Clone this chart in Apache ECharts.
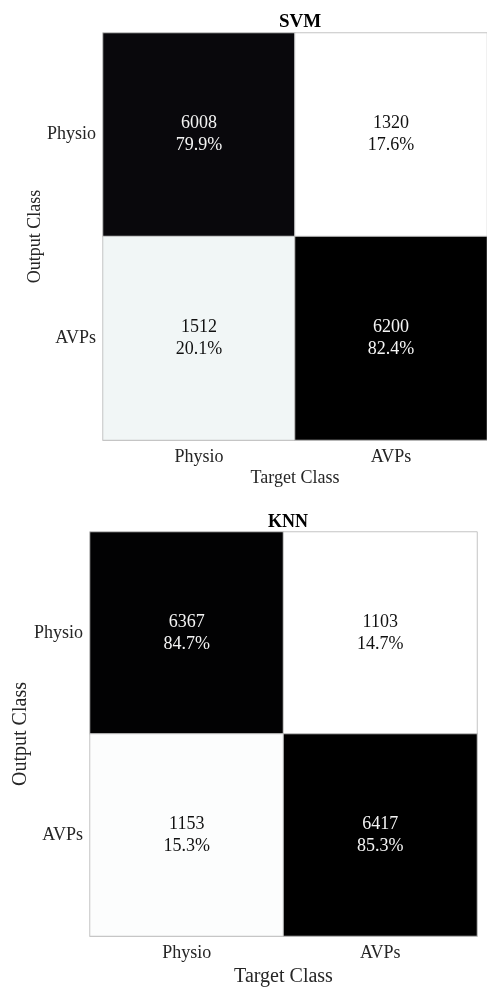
<!DOCTYPE html>
<html>
<head>
<meta charset="utf-8">
<script src="https://cdn.jsdelivr.net/npm/echarts@6/dist/echarts.min.js"></script>
<style>
html,body{margin:0;padding:0;background:#fff;}
#c{width:487px;height:988px;}
</style>
</head>
<body>
<div id="c"></div>
<script>
const targetClasses = ['Physio', 'AVPs'];
const outputClasses = ['Physio', 'AVPs'];
const titles = ['SVM', 'KNN'];
// rows = output class, cols = target class
const svmCounts = [[6008, 1320], [1512, 6200]];
const svmPercents = [[79.9, 17.6], [20.1, 82.4]];
const knnCounts = [[6367, 1103], [1153, 6417]];
const knnPercents = [[84.7, 14.7], [15.3, 85.3]];

const boneReversed = ['#ffffff','#d3e3e3','#a6c6c6','#8b9faa','#6f788e','#535171','#37364b','#1c1b26','#000000'];
const FONT = '"Liberation Serif", "Times New Roman", serif';

function buildData(counts, pcts) {
  const flat = counts.flat();
  const mn = Math.min(...flat), mx = Math.max(...flat);
  const data = [];
  for (let r = 0; r < counts.length; r++) {
    for (let c = 0; c < counts[r].length; c++) {
      const v = counts[r][c];
      data.push({
        value: [c, r, v, pcts[r][c]],
        label: { color: v > (mn + mx) / 2 ? '#f4f4f4' : '#111' }
      });
    }
  }
  return { data, mn, mx };
}

const svm = buildData(svmCounts, svmPercents);
const knn = buildData(knnCounts, knnPercents);

const grids = [
  { left: 103, top: 33, width: 384, height: 407 },
  { left: 90, top: 532, width: 387, height: 407 }
];
const nameSizes = [18, 20];
const xNameGaps = [29, 31];

const chart = echarts.init(document.getElementById('c'), null, { renderer: 'canvas' });
chart.setOption({
  backgroundColor: '#fff',
  animation: false,
  title: [
    { text: titles[0], left: 295, top: 8, textAlign: 'center',
      textStyle: { fontFamily: FONT, fontWeight: 'bold', fontSize: 19, color: '#000' } },
    { text: titles[1], left: 283, top: 508, textAlign: 'center',
      textStyle: { fontFamily: FONT, fontWeight: 'bold', fontSize: 18, color: '#000' } }
  ],
  grid: grids,
  xAxis: [0, 1].map(i => ({
    type: 'category', gridIndex: i, data: targetClasses,
    name: 'Target Class', nameLocation: 'middle', nameGap: xNameGaps[i], nameMoveOverlap: false,
    nameTextStyle: { fontFamily: FONT, fontSize: nameSizes[i], color: '#262626' },
    axisLine: { show: true, lineStyle: { color: '#bdbdbd', width: 1 } },
    axisTick: { show: false },
    axisLabel: { fontFamily: FONT, fontSize: 18, color: '#262626', margin: 8 },
    splitLine: { show: false }
  })),
  yAxis: [0, 1].map(i => ({
    type: 'category', gridIndex: i, data: outputClasses, inverse: true,
    name: 'Output Class', nameLocation: 'middle', nameGap: 59, nameRotate: 90, nameMoveOverlap: false,
    nameTextStyle: { fontFamily: FONT, fontSize: nameSizes[i], color: '#262626' },
    axisLine: { show: true, lineStyle: { color: '#bdbdbd', width: 1 } },
    axisTick: { show: false },
    axisLabel: { fontFamily: FONT, fontSize: 18, color: '#262626', margin: 7 },
    splitLine: { show: false }
  })),
  visualMap: [
    { show: false, seriesIndex: 0, dimension: 2, min: svm.mn, max: svm.mx, inRange: { color: boneReversed } },
    { show: false, seriesIndex: 1, dimension: 2, min: knn.mn, max: knn.mx, inRange: { color: boneReversed } }
  ],
  series: [svm, knn].map((d, i) => ({
    type: 'heatmap', xAxisIndex: i, yAxisIndex: i, data: d.data,
    itemStyle: { borderColor: '#c4c4c4', borderWidth: 1 },
    label: {
      show: true, fontFamily: FONT, fontSize: 18, lineHeight: 22,
      formatter: p => p.value[2] + '\n' + p.value[3].toFixed(1) + '%'
    },
    emphasis: { disabled: true }
  }))
});
</script>
</body>
</html>
